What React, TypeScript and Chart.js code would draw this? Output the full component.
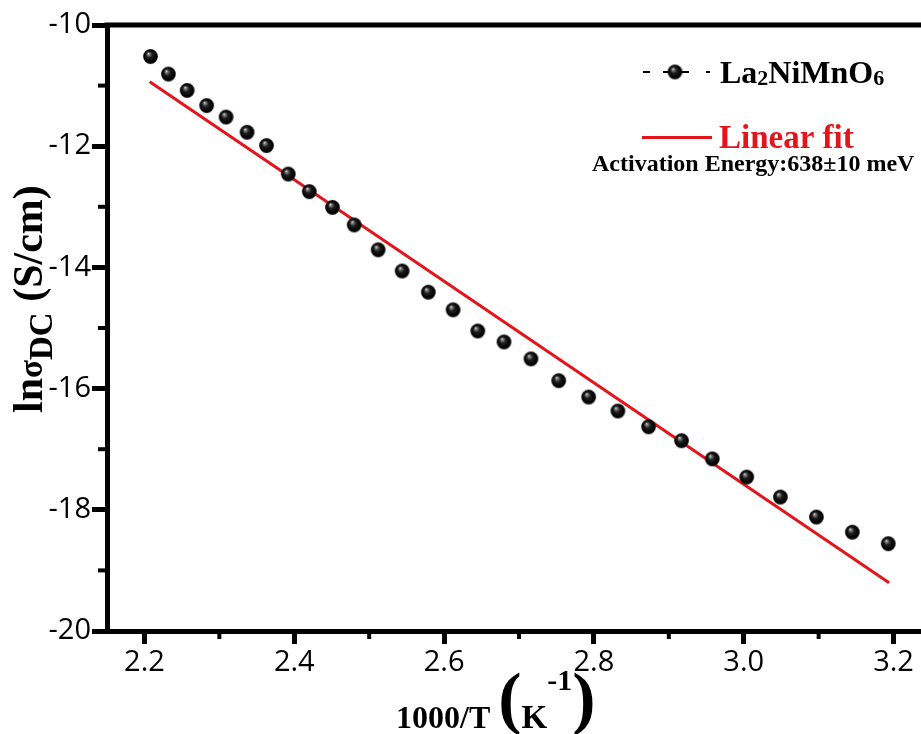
import React, { useEffect, useRef } from 'react';
import { Chart, registerables } from 'chart.js';

Chart.register(...registerables);

// ---- data ----
const invT = [2.208, 2.232, 2.257, 2.283, 2.309, 2.337, 2.363, 2.392, 2.420, 2.451, 2.480, 2.512, 2.544, 2.579, 2.612, 2.645, 2.680, 2.716, 2.753, 2.793, 2.832, 2.873, 2.917, 2.958, 3.004, 3.049, 3.097, 3.145, 3.193];
const lnSigma = [-10.52, -10.81, -11.08, -11.33, -11.52, -11.77, -11.99, -12.46, -12.75, -13.01, -13.30, -13.71, -14.06, -14.41, -14.70, -15.05, -15.23, -15.51, -15.87, -16.14, -16.37, -16.63, -16.86, -17.16, -17.46, -17.79, -18.12, -18.37, -18.56];
const fitX = [2.207, 3.194];
const fitY = [-10.935, -19.203];

const xTicks = [2.2, 2.4, 2.6, 2.8, 3.0, 3.2];
const xTickLabels = ['2.2', '2.4', '2.6', '2.8', '3.0', '3.2'];
const xMinor = [2.3, 2.5, 2.7, 2.9, 3.1];
const yTicks = [-20, -18, -16, -14, -12, -10];
const yTickLabels = ['-20', '-18', '-16', '-14', '-12', '-10'];
const yMinor = [-19, -17, -15, -13, -11];

const seriesName = ['La', '2', 'NiMnO', '6'];
const fitName = 'Linear fit';
const note = 'Activation Energy:638\u00b110 meV';

const SERIF = '"Liberation Serif", "Times New Roman", serif';
const SANS = '"Open Sans", "Noto Sans", sans-serif';
const RED = '#e3151b';

function makeSphere(r: number) {
  const c = document.createElement('canvas');
  const s = Math.ceil(r * 2 + 2);
  c.width = s;
  c.height = s;
  const g = c.getContext('2d')!;
  const cx = s / 2, cy = s / 2;
  const grad = g.createRadialGradient(cx - r * 0.3, cy - r * 0.42, 0, cx, cy, r);
  grad.addColorStop(0, '#f2f2f2');
  grad.addColorStop(0.14, '#8a8a8a');
  grad.addColorStop(0.42, '#1e1e1e');
  grad.addColorStop(0.85, '#000');
  grad.addColorStop(1, '#262626');
  g.fillStyle = grad;
  g.beginPath();
  g.arc(cx, cy, r, 0, Math.PI * 2);
  g.fill();
  return c;
}

type Run = { t: string; f: string; dy: number; c?: string };
function drawRuns(ctx: CanvasRenderingContext2D, runs: Run[], x: number, y: number) {
  let cx = x;
  for (const r of runs) {
    ctx.font = r.f;
    if (r.c) ctx.fillStyle = r.c;
    ctx.fillText(r.t, cx, y + r.dy);
    cx += ctx.measureText(r.t).width;
  }
}

export default function App() {
  const ref = useRef<HTMLCanvasElement | null>(null);

  useEffect(() => {
    if (!ref.current) return;
    const sphere = makeSphere(7.4);

    const decor = {
      id: 'decor',
      afterDraw(chart: any) {
        const ctx: CanvasRenderingContext2D = chart.ctx;
        const { left, right, top, bottom } = chart.chartArea;
        const xs = chart.scales.x;
        const ys = chart.scales.y;
        ctx.save();
        ctx.strokeStyle = '#000';
        ctx.lineWidth = 5;
        // top and right frame
        ctx.beginPath();
        ctx.moveTo(left - 2.5, top);
        ctx.lineTo(right + 2.5, top);
        ctx.moveTo(right, top);
        ctx.lineTo(right, bottom);
        ctx.stroke();
        // minor ticks
        ctx.lineWidth = 4;
        for (const v of xMinor) {
          const px = xs.getPixelForValue(v);
          ctx.beginPath();
          ctx.moveTo(px, bottom);
          ctx.lineTo(px, bottom + 8);
          ctx.stroke();
        }
        for (const v of yMinor) {
          const py = ys.getPixelForValue(v);
          ctx.beginPath();
          ctx.moveTo(left, py);
          ctx.lineTo(left - 9, py);
          ctx.stroke();
        }

        // legend
        ctx.fillStyle = '#000';
        ctx.textAlign = 'left';
        ctx.textBaseline = 'alphabetic';
        const ly = 72;
        ctx.lineWidth = 2;
        ctx.beginPath();
        ctx.moveTo(643, ly); ctx.lineTo(650, ly);
        ctx.moveTo(663, ly); ctx.lineTo(669, ly);
        ctx.moveTo(681, ly); ctx.lineTo(689, ly);
        ctx.moveTo(706, ly); ctx.lineTo(710, ly);
        ctx.stroke();
        ctx.drawImage(sphere, 675 - sphere.width / 2, ly - sphere.height / 2);
        drawRuns(ctx, [
          { t: seriesName[0], f: `bold 32px ${SERIF}`, dy: 0 },
          { t: seriesName[1], f: `bold 22px ${SERIF}`, dy: 2 },
          { t: seriesName[2], f: `bold 32px ${SERIF}`, dy: 0 },
          { t: seriesName[3], f: `bold 22px ${SERIF}`, dy: 2 },
        ], 720, 83);

        ctx.strokeStyle = RED;
        ctx.lineWidth = 3;
        ctx.beginPath();
        ctx.moveTo(642, 137.5);
        ctx.lineTo(712, 137.5);
        ctx.stroke();
        ctx.fillStyle = RED;
        ctx.font = `bold 33px ${SERIF}`;
        ctx.fillText(fitName, 719, 148);

        ctx.fillStyle = '#000';
        ctx.font = `bold 24px ${SERIF}`;
        ctx.fillText(note, 592, 171);

        // x title
        drawRuns(ctx, [
          { t: '1000/T ', f: `bold 32px ${SERIF}`, dy: 0 },
          { t: '(', f: `bold 70px ${SERIF}`, dy: -7 },
          { t: 'K', f: `bold 33px ${SERIF}`, dy: 0 },
          { t: '-1', f: `bold 30px ${SERIF}`, dy: -38 },
          { t: ')', f: `bold 70px ${SERIF}`, dy: -7 },
        ], 396, 728);

        // y title
        ctx.save();
        ctx.translate(42, 413);
        ctx.rotate(-Math.PI / 2);
        drawRuns(ctx, [
          { t: 'ln', f: `bold 42px ${SERIF}`, dy: 0 },
          { t: '\u03c3', f: `bold 33px ${SERIF}`, dy: 0 },
          { t: 'DC', f: `bold 33px ${SERIF}`, dy: 10 },
          { t: ' (S/cm)', f: `bold 42px ${SERIF}`, dy: 0 },
        ], 0, 0);
        ctx.restore();

        ctx.restore();
      },
    };

    const chart = new Chart(ref.current, {
      type: 'scatter',
      data: {
        datasets: [
          {
            label: 'La2NiMnO6',
            data: invT.map((x, i) => ({ x, y: lnSigma[i] })),
            showLine: false,
            pointStyle: sphere as any,
            pointRadius: 7,
            borderWidth: 0,
          },
          {
            label: fitName,
            data: fitX.map((x, i) => ({ x, y: fitY[i] })),
            showLine: true,
            borderColor: RED,
            borderWidth: 3,
            pointRadius: 0,
          },
        ],
      },
      options: {
        responsive: false,
        animation: false,
        devicePixelRatio: 1,
        layout: { padding: { top: 25, right: 9, left: 0, bottom: 0 } },
        plugins: { legend: { display: false }, tooltip: { enabled: false } },
        scales: {
          x: {
            type: 'linear',
            min: 2.15,
            max: 3.25,
            afterBuildTicks: (s: any) => { s.ticks = xTicks.map((v) => ({ value: v })); },
            afterFit: (s: any) => { s.height = 103; },
            ticks: {
              callback: (_v: any, i: number) => xTickLabels[i],
              font: { family: SANS, size: 29 },
              color: '#000',
              padding: 1,
              maxRotation: 0,
              autoSkip: false,
            },
            grid: { drawOnChartArea: false, tickLength: 13, tickWidth: 5, tickColor: '#000' },
            border: { color: '#000', width: 5 },
          },
          y: {
            type: 'linear',
            min: -20,
            max: -10,
            afterBuildTicks: (s: any) => { s.ticks = yTicks.map((v) => ({ value: v })); },
            afterFit: (s: any) => { s.width = 107; },
            ticks: {
              callback: (_v: any, i: number) => yTickLabels[i],
              font: { family: SANS, size: 29 },
              color: '#000',
              padding: 1,
              autoSkip: false,
            },
            grid: { drawOnChartArea: false, tickLength: 15, tickWidth: 5, tickColor: '#000' },
            border: { color: '#000', width: 5 },
          },
        },
      },
      plugins: [decor],
    } as any);

    return () => chart.destroy();
  }, []);

  return (
    <div style={{ position: 'fixed', left: 0, top: 0, width: 921, height: 734, overflow: 'hidden', background: '#fff' }}>
      <canvas ref={ref} width={940} height={734} style={{ display: 'block' }} />
    </div>
  );
}
